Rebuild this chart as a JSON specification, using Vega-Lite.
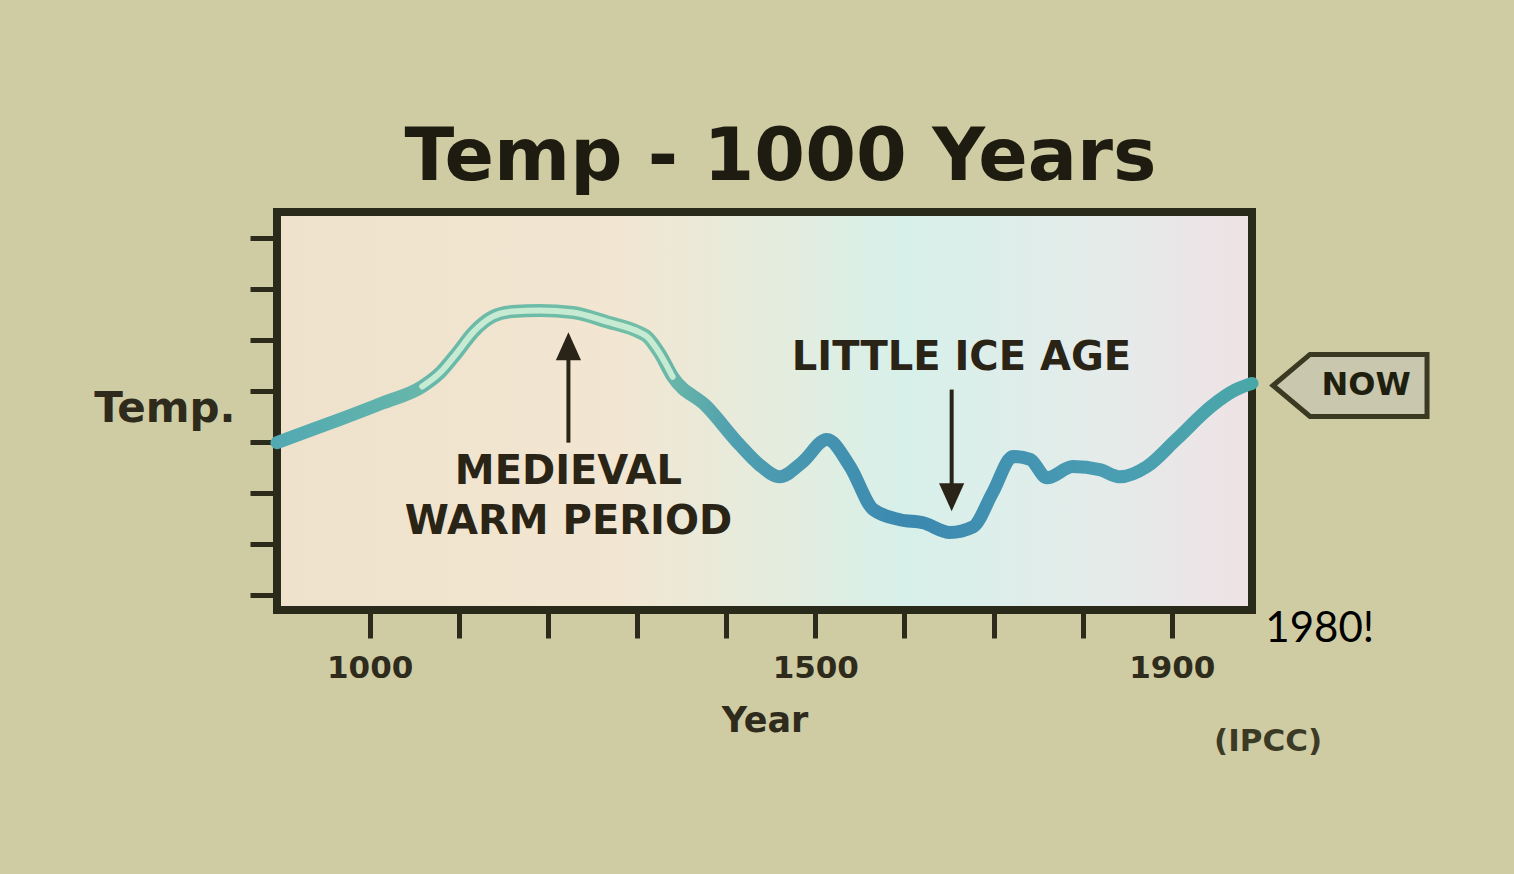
{
  "$schema": "https://vega.github.io/schema/vega-lite/v6.json",
  "width": 975,
  "height": 398,
  "autosize": {"type": "none"},
  "padding": {"left": 277, "top": 212, "right": 262, "bottom": 264},
  "background": "#cfcca4",
  "view": {
    "fill": {"gradient": "linear", "x1": 0, "y1": 0, "x2": 1, "y2": 0,
      "stops": [
        {"offset": 0, "color": "#efe2cc"},
        {"offset": 0.35, "color": "#f2e6d2"},
        {"offset": 0.53, "color": "#e3eddf"},
        {"offset": 0.64, "color": "#d7f0ea"},
        {"offset": 0.84, "color": "#e4ecea"},
        {"offset": 1, "color": "#efe2e5"}
      ]},
    "stroke": "#2a2a1a",
    "strokeWidth": 8
  },
  "title": {
    "text": "Temp - 1000 Years",
    "font": "DejaVu Sans",
    "fontSize": 73,
    "fontWeight": "bold",
    "color": "#1e1c10",
    "anchor": "middle",
    "dx": 16,
    "offset": 17
  },
  "datasets": {
    "temp": [
      {"year": 896, "temp": 2.98}, {"year": 930, "temp": 3.2}, {"year": 966, "temp": 3.43},
      {"year": 1015, "temp": 3.76}, {"year": 1059, "temp": 4.08}, {"year": 1079, "temp": 4.35},
      {"year": 1098, "temp": 4.74}, {"year": 1116, "temp": 5.14}, {"year": 1138, "temp": 5.45},
      {"year": 1160, "temp": 5.55}, {"year": 1191, "temp": 5.57}, {"year": 1228, "temp": 5.53},
      {"year": 1266, "temp": 5.35}, {"year": 1303, "temp": 5.14}, {"year": 1311, "temp": 5.06},
      {"year": 1325, "temp": 4.74}, {"year": 1340, "temp": 4.27}, {"year": 1378, "temp": 3.69},
      {"year": 1415, "temp": 2.94}, {"year": 1437, "temp": 2.55}, {"year": 1460, "temp": 2.31},
      {"year": 1485, "temp": 2.59}, {"year": 1513, "temp": 3.04}, {"year": 1539, "temp": 2.51},
      {"year": 1565, "temp": 1.67}, {"year": 1595, "temp": 1.47}, {"year": 1621, "temp": 1.41},
      {"year": 1651, "temp": 1.22}, {"year": 1677, "temp": 1.33}, {"year": 1699, "temp": 2.0},
      {"year": 1722, "temp": 2.71}, {"year": 1741, "temp": 2.65}, {"year": 1760, "temp": 2.29},
      {"year": 1789, "temp": 2.51}, {"year": 1819, "temp": 2.45}, {"year": 1842, "temp": 2.31},
      {"year": 1872, "temp": 2.51}, {"year": 1905, "temp": 3.04}, {"year": 1945, "temp": 3.7},
      {"year": 1970, "temp": 4.0}, {"year": 1990, "temp": 4.14}
    ],
    "arrows": [
      {"name": "medieval", "year": 1223, "temp": 2.98, "temp2": 4.6},
      {"name": "ice", "year": 1653, "temp": 4.02, "temp2": 2.1}
    ],
    "heads": [
      {"dir": "up", "year": 1223, "temp": 4.87},
      {"dir": "down", "year": 1653, "temp": 1.91}
    ],
    "notes": [
      {"label": "MEDIEVAL", "year": 1223, "temp": 2.41},
      {"label": "WARM PERIOD", "year": 1223, "temp": 1.43},
      {"label": "LITTLE ICE AGE", "year": 1664, "temp": 4.63}
    ],
    "source": [{"label": "(IPCC)", "year": 2008, "temp": -2.88}],
    "remark": [{"label": "1980!", "year": 2066, "temp": -0.67}],
    "now": [{"label": "NOW", "year": 2100, "temp": 4.1}]
  },
  "encoding": {
    "x": {
      "field": "year", "type": "quantitative",
      "scale": {"domain": [896, 1990], "nice": false, "zero": false},
      "axis": {
        "values": [1000, 1100, 1200, 1300, 1400, 1500, 1600, 1700, 1800, 1900],
        "format": "d",
        "labelExpr": "(datum.value == 1000 || datum.value == 1500 || datum.value == 1900) ? datum.label : ''",
        "domain": false, "grid": false,
        "tickSize": 28, "tickWidth": 5, "tickColor": "#2c2a1a",
        "labelFont": "DejaVu Sans", "labelFontSize": 31, "labelFontWeight": "bold",
        "labelColor": "#2e2b1c", "labelPadding": 15,
        "title": "Year",
        "titleFont": "DejaVu Sans", "titleFontSize": 35, "titleFontWeight": "bold",
        "titleColor": "#2e2b1c", "titlePadding": 20
      }
    },
    "y": {
      "field": "temp", "type": "quantitative",
      "scale": {"domain": [-0.3, 7.5], "nice": false, "zero": false},
      "axis": {
        "values": [0, 1, 2, 3, 4, 5, 6, 7],
        "labels": false, "domain": false, "grid": false,
        "tickSize": 27, "tickWidth": 5, "tickColor": "#2c2a1a",
        "title": "Temp.",
        "titleAngle": 0, "titleAlign": "right", "titleBaseline": "middle",
        "titleX": -42, "titleY": 196,
        "titleFont": "DejaVu Sans", "titleFontSize": 42, "titleFontWeight": "bold",
        "titleColor": "#2e2b1c"
      }
    }
  },
  "layer": [
    {
      "data": {"name": "temp"},
      "mark": {
        "type": "line", "interpolate": "monotone", "strokeWidth": 13, "strokeCap": "round",
        "color": {"gradient": "linear", "x1": 0, "y1": 0, "x2": 1, "y2": 0,
          "stops": [
            {"offset": 0, "color": "#52a9b2"},
            {"offset": 0.18, "color": "#6bb9a8"},
            {"offset": 0.38, "color": "#72bea6"},
            {"offset": 0.47, "color": "#4f9fb0"},
            {"offset": 0.65, "color": "#3b88b0"},
            {"offset": 0.85, "color": "#4a9db2"},
            {"offset": 1, "color": "#4aa7a8"}
          ]}
      }
    },
    {
      "data": {"name": "temp"},
      "transform": [{"filter": "datum.year >= 1030 && datum.year <= 1350"}],
      "mark": {"type": "line", "interpolate": "monotone", "strokeWidth": 6, "color": "#c6ead2", "strokeCap": "round"}
    },
    {
      "data": {"name": "arrows"},
      "mark": {"type": "rule", "strokeWidth": 4, "color": "#2a2418"},
      "encoding": {"y2": {"field": "temp2"}}
    },
    {
      "data": {"name": "heads"},
      "transform": [{"filter": "datum.dir == 'up'"}],
      "mark": {"type": "point", "shape": "M0,-1L0.9,1L-0.9,1Z", "size": 784, "filled": true, "opacity": 1, "color": "#2a2418"}
    },
    {
      "data": {"name": "heads"},
      "transform": [{"filter": "datum.dir == 'down'"}],
      "mark": {"type": "point", "shape": "M0,1L0.9,-1L-0.9,-1Z", "size": 784, "filled": true, "opacity": 1, "color": "#2a2418"}
    },
    {
      "data": {"name": "notes"},
      "mark": {"type": "text", "font": "DejaVu Sans", "fontSize": 40, "fontWeight": "bold", "color": "#2a2416", "align": "center", "baseline": "middle"},
      "encoding": {"text": {"field": "label"}}
    },
    {
      "data": {"name": "source"},
      "mark": {"type": "text", "font": "DejaVu Sans", "fontSize": 31, "fontWeight": "bold", "color": "#3b3a25", "align": "center", "baseline": "middle"},
      "encoding": {"text": {"field": "label"}}
    },
    {
      "data": {"name": "remark"},
      "mark": {"type": "text", "font": "Lato", "fontSize": 42, "color": "#000000", "align": "center", "baseline": "middle"},
      "encoding": {"text": {"field": "label"}}
    },
    {
      "data": {"name": "now"},
      "mark": {"type": "point", "shape": "M-1,0L-0.52,-0.403L1,-0.403L1,0.403L-0.52,0.403Z", "size": 23716, "filled": true, "opacity": 1, "fill": "#c9c7ae", "stroke": "#3a3a22", "strokeWidth": 5}
    },
    {
      "data": {"name": "now"},
      "mark": {"type": "text", "font": "DejaVu Sans", "fontSize": 32, "fontWeight": "bold", "color": "#1f1f10", "align": "center", "baseline": "middle", "dx": 16},
      "encoding": {"text": {"field": "label"}}
    }
  ]
}
